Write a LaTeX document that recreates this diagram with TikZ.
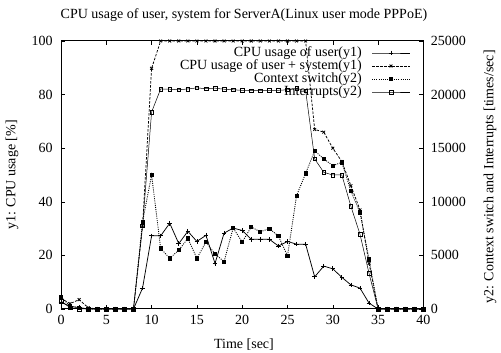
\documentclass[tikz,border=0pt]{standalone}
\usepackage{fontspec}
\setmainfont{Liberation Serif}
\usetikzlibrary{plotmarks}

\tikzset{
	userline/.style={line width=0.75pt, mark=+, mark size=2.3pt},
	sysline/.style={line width=0.75pt, dash pattern=on 2.5pt off 1.5pt, mark=x, mark size=2pt, mark options={solid}},
	ctxline/.style={line width=0.85pt, dash pattern=on 1pt off 1.2pt, mark=square*, mark size=1.6pt, mark options={solid}},
	intline/.style={line width=0.5pt, mark=square, mark size=1.8pt},
	txt/.style={font=\fontsize{14}{14}\selectfont, inner sep=1pt}
}

\begin{document}
\begin{tikzpicture}[x=1pt,y=1pt]
\useasboundingbox (0,0) rectangle (501,353);

%Titel und Achsenbeschriftung
\node[txt] (title) at (244,338) {CPU usage of user, system for ServerA(Linux user mode PPPoE)};
\node[txt] (xlabel) at (244,8) {Time [sec]};
\node[txt, rotate=90] (ylabel) at (12,178) {y1: CPU usage [\%]};
\node[txt, rotate=90] (y2label) at (490,176) {y2: Context switch and Interrupts [times/sec]};

\begin{scope}[shift={(61,44)}, x=9.06pt, y=2.68pt]
%Rahmen und Ticks
\draw[line width=1pt] (0,0) rectangle (40,100);
\foreach \t in {0,5,...,40}
{
	\draw (\t,0) -- (\t,1.5);
	\draw (\t,100) -- (\t,98.5);
	\node[txt, below] (xt\t) at (\t,-1.8) {\t};
}
\foreach \v/\w in
{
0/0,
20/5000,
40/10000,
60/15000,
80/20000,
100/25000
}
{
	\draw (0,\v) -- (0.45,\v);
	\draw (40,\v) -- (39.55,\v);
	\node[txt, left] (yl\v) at (-0.8,\v) {\v};
	\node[txt, right] (yr\v) at (0.7+40,\v) {\w};
}

%Interrupts
\draw[intline] plot coordinates {(0,3) (1,0.5) (2,0) (3,0) (4,0) (5,0) (6,0) (7,0) (8,0) (9,31) (10,73.5) (11,82.1) (12,82) (13,81.8) (14,82.1) (15,82.5) (16,82.2) (17,82.4) (18,82) (19,81.8) (20,81.6) (21,81.5) (22,81.5) (23,81.6) (24,81.6) (25,81.8) (26,82.3) (27,81.5) (28,56) (29,51) (30,50) (31,50) (32,38.3) (33,27.9) (34,13.3) (35,0) (36,0) (37,0) (38,0) (39,0) (40,0)};

%Context switch
\draw[ctxline] plot coordinates {(0,4.5) (1,1) (2,0.5) (3,0) (4,0) (5,0) (6,0) (7,0) (8,0) (9,32.5) (10,50) (11,22.6) (12,18.9) (13,22) (14,26.3) (15,18.9) (16,25) (17,20.5) (18,17.7) (19,30.2) (20,25) (21,30.6) (22,28.8) (23,30) (24,27.2) (25,19.8) (26,42.3) (27,50.6) (28,59) (29,56) (30,53.5) (31,54.7) (32,44) (33,36) (34,18.5) (35,0) (36,0) (37,0) (38,0) (39,0) (40,0)};

%CPU usage of user + system
\draw[sysline] plot coordinates {(0,4) (1,2) (2,3.5) (3,0.5) (4,0) (5,0) (6,0) (7,0) (8,0) (9,31) (10,89.8) (11,100) (12,100) (13,100) (14,100) (15,100) (16,100) (17,100) (18,100) (19,100) (20,100) (21,100) (22,100) (23,100) (24,100) (25,100) (26,100) (27,100) (28,67) (29,66) (30,60) (31,55) (32,46) (33,37) (34,17) (35,0) (36,0) (37,0) (38,0) (39,0) (40,0)};

%CPU usage of user
\draw[userline] plot coordinates {(0,2.5) (1,1) (2,0.5) (3,0) (4,0) (5,0) (6,0) (7,0) (8,0) (9,7.8) (10,27.3) (11,27.3) (12,32) (13,24.4) (14,29) (15,25.2) (16,27.5) (17,17) (18,28.3) (19,30.2) (20,29.3) (21,26) (22,26) (23,26) (24,23.5) (25,25.2) (26,24.2) (27,24.2) (28,12) (29,16) (30,15) (31,11.8) (32,9) (33,7.8) (34,2.2) (35,0) (36,0) (37,0) (38,0) (39,0) (40,0)};
\end{scope}

%Legende
\node[txt, left] (leg1) at (363,300) {CPU usage of user(y1)};
\node[txt, left] (leg2) at (363,287) {CPU usage of user + system(y1)};
\node[txt, left] (leg3) at (363,274) {Context switch(y2)};
\node[txt, left] (leg4) at (363,261) {Interrupts(y2)};
\draw[userline, mark repeat=2, mark phase=2] plot coordinates {(372,300) (391,300) (410,300)};
\draw[sysline, mark repeat=2, mark phase=2] plot coordinates {(372,287) (391,287) (410,287)};
\draw[ctxline, mark repeat=2, mark phase=2] plot coordinates {(372,274) (391,274) (410,274)};
\draw[intline, mark repeat=2, mark phase=2] plot coordinates {(372,261) (391,261) (410,261)};

\end{tikzpicture}
\end{document}
